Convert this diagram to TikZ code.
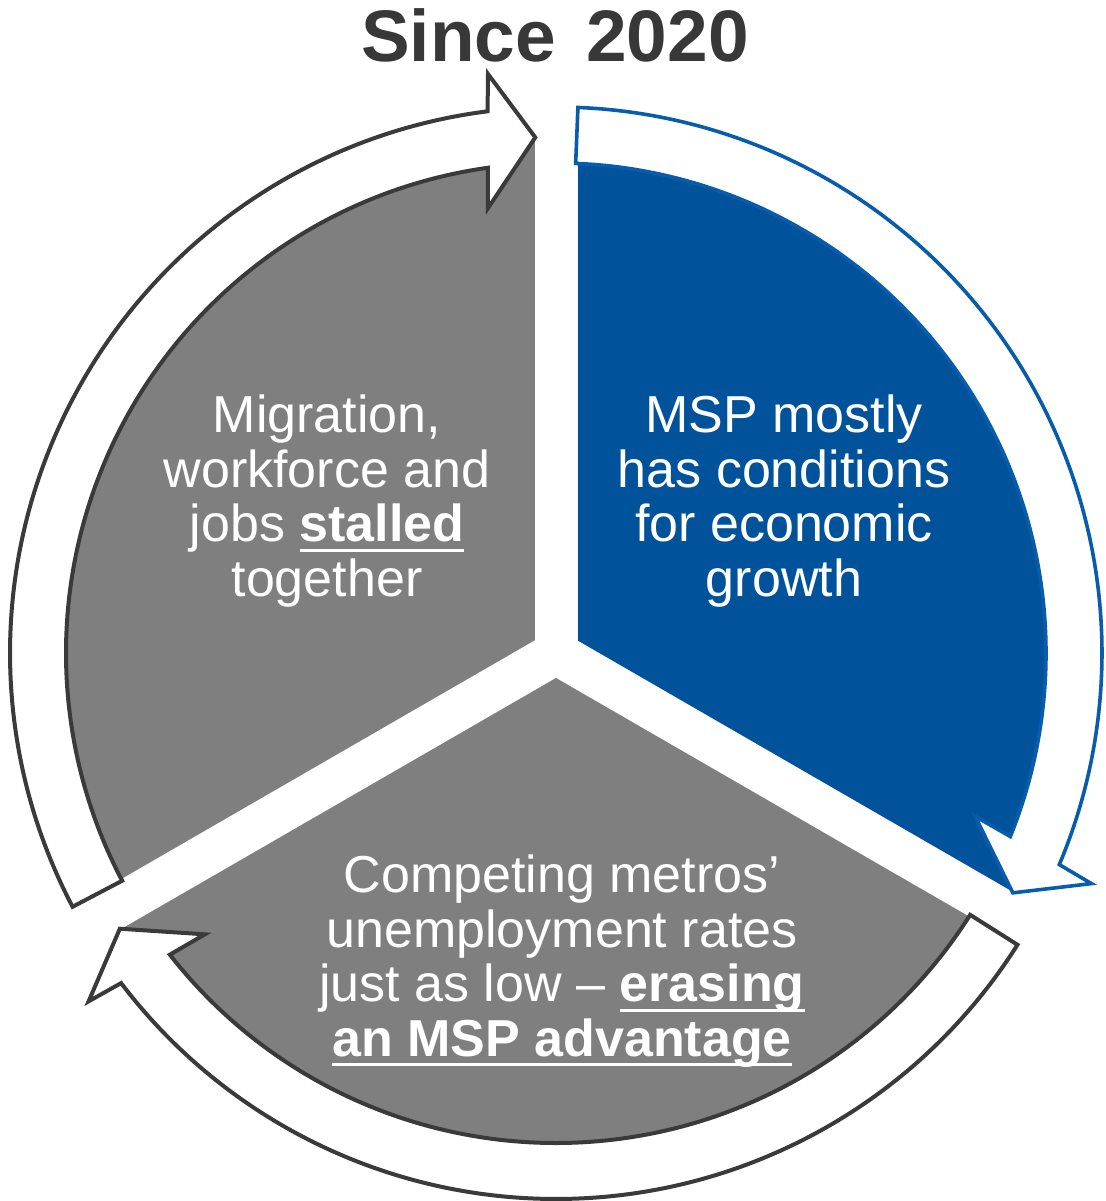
\documentclass[tikz,border=0pt]{standalone}
\usepackage{fontspec}
\setmainfont{Liberation Sans}
\definecolor{segblue}{RGB}{0,82,155}
\definecolor{rimblue}{RGB}{8,92,172}
\definecolor{seggray}{RGB}{127,127,127}
\definecolor{rimgray}{RGB}{58,58,58}
\definecolor{titlegray}{RGB}{56,56,56}
\newcommand{\ulbold}[1]{\setbox0=\hbox{\bfseries #1}\rlap{\rule[-5pt]{\wd0}{1.7pt}}\box0}
\newcommand{\ringarrow}[1]{\draw[#1] (207.7:546) arc (207.7:97.2:546) -- (96.7:583) -- (92.3:516) -- (98.7:450) -- (98.0:490) arc (98.0:207.7:490) -- cycle;}
\tikzset{segtext/.style={text=white, align=center, inner sep=0pt, anchor=base, font=\fontsize{26pt}{27.25pt}\selectfont}}
\begin{document}
\begin{tikzpicture}[x=0.5pt, y=0.5pt]
\useasboundingbox (0,0) rectangle (1106,1201);
\begin{scope}[shift={(556,548)}]
\fill[seggray] (0,0) -- (210:518) arc (210:90:518) -- cycle;
\fill[segblue] (0,0) -- (90:518) arc (90:-30:518) -- cycle;
\fill[seggray] (0,0) -- (-30:518) arc (-30:-150:518) -- cycle;
\draw[white, line width=21.5pt] (0,0) -- (90:560);
\draw[white, line width=21.5pt] (0,0) -- (210:560);
\draw[white, line width=21.5pt] (0,0) -- (-30:560);
\ringarrow{fill=white, draw=rimgray, line width=2pt}
\begin{scope}[rotate=-120]
\ringarrow{fill=white, draw=rimblue, line width=1.8pt}
\end{scope}
\begin{scope}[rotate=120]
\ringarrow{fill=white, draw=rimgray, line width=2pt}
\end{scope}
\end{scope}
\node[font=\fontsize{36.5pt}{40pt}\selectfont\bfseries, text=titlegray, anchor=base, inner sep=0pt] (title) at (555,1139) {Since\hspace{5pt} 2020};
\node[segtext] (stalled) at (327,604.5) {Migration,\\workforce and\\jobs \ulbold{stalled}\\together};
\node[segtext] (growth) at (784,604.5) {MSP mostly\\has conditions\\for economic\\growth};
\node[segtext] (advantage) at (562,144.5) {Competing metros’\\unemployment rates\\just as low – \ulbold{erasing}\\\ulbold{an MSP advantage}};
\end{tikzpicture}
\end{document}
